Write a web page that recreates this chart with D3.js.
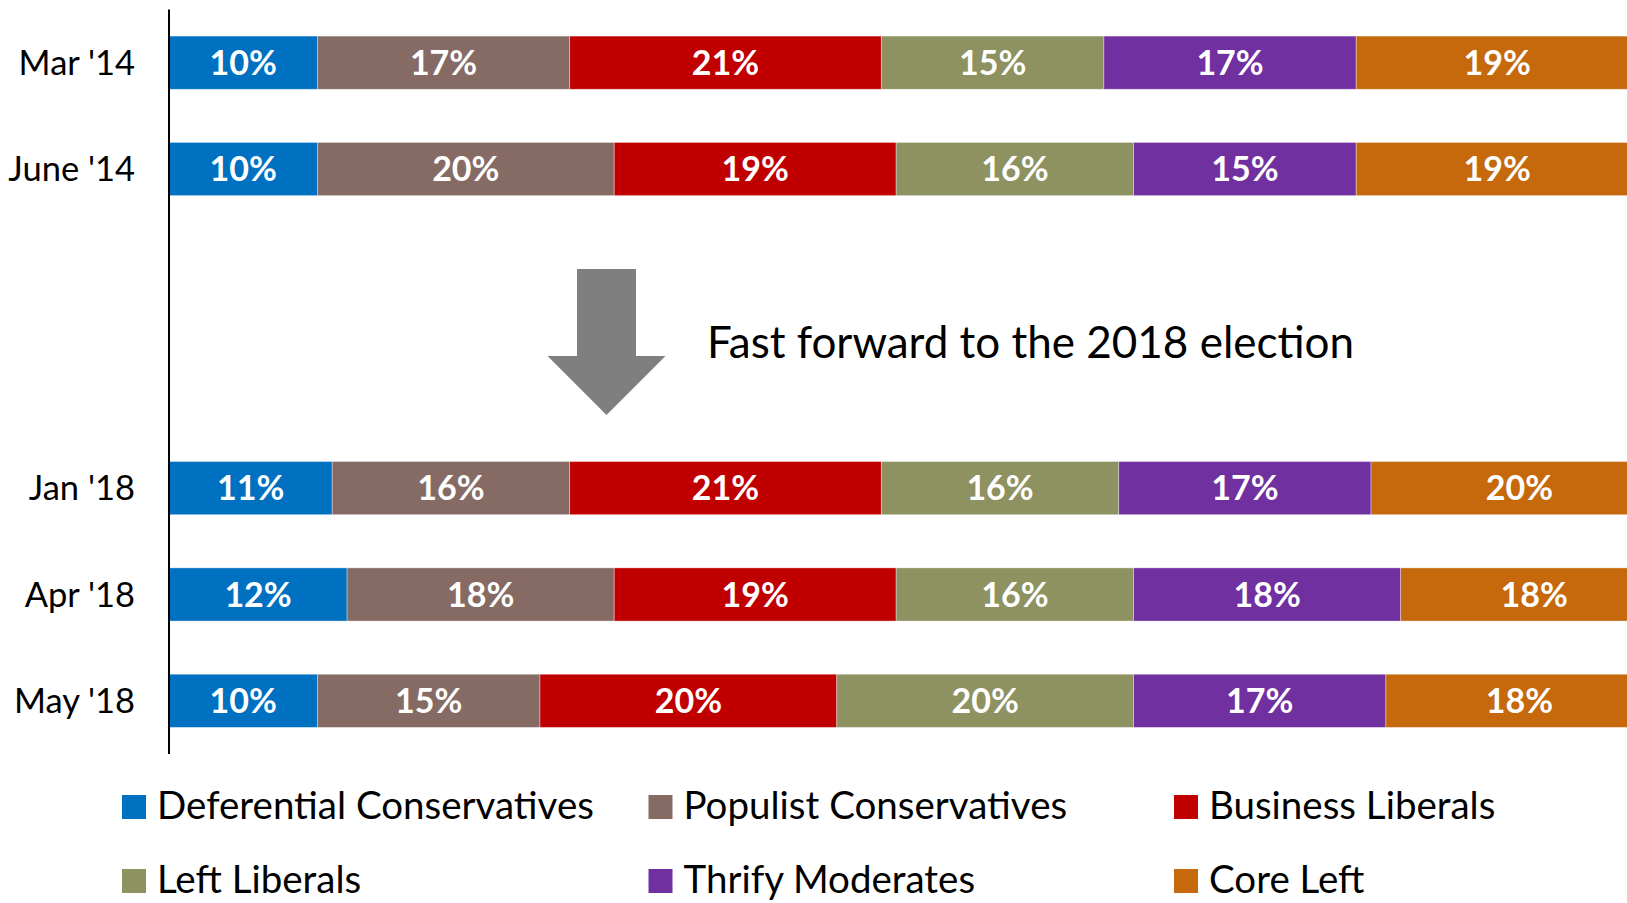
<!DOCTYPE html>
<html>
<head>
<meta charset="utf-8">
<script src="https://cdn.jsdelivr.net/npm/d3@7"></script>
<style>
  html, body { margin: 0; padding: 0; background: #fff; overflow: hidden; }
  svg { display: block; }
  text { font-family: Lato, "Open Sans", sans-serif; }
</style>
</head>
<body>
<svg id="chart" width="1627" height="903"></svg>
<script>
// Survey waves (rows); the two blank slots leave room for the "fast forward" note
const waves = ["Mar '14", "June '14", "", " ", "Jan '18", "Apr '18", "May '18"];

// Segment names in stacking order, left to right
const segments = [
  "Deferential Conservatives",
  "Populist Conservatives",
  "Business Liberals",
  "Left Liberals",
  "Thrify Moderates",
  "Core Left"
];

// Share of voters per segment (%), one array per wave
const mar14  = [10, 17, 21, 15, 17, 19];
const jun14  = [10, 20, 19, 16, 15, 19];
const jan18  = [11, 16, 21, 16, 17, 20];
const apr18  = [12, 18, 19, 16, 18, 18];
const may18  = [10, 15, 20, 20, 17, 18];

const segColors = ["#0070C0", "#866B64", "#C00000", "#8E9160", "#7030A0", "#C5690C"];

const note = "Fast forward to the 2018 election";

const rows = [
  { wave: "Mar '14", values: mar14 },
  { wave: "June '14", values: jun14 },
  { wave: "Jan '18", values: jan18 },
  { wave: "Apr '18", values: apr18 },
  { wave: "May '18", values: may18 }
];

const svg = d3.select("#chart");

// Layout
const axisX = 169;
const plotTop = 9.5, plotBottom = 754;

const x = d3.scaleLinear().domain([0, 100]).range([axisX, axisX + 1484]);
const y = d3.scaleBand().domain(waves).range([plotTop, plotBottom])
  .paddingInner(0.5).paddingOuter(0.25);
const color = d3.scaleOrdinal().domain(segments).range(segColors);

// Stack the values of each wave
const table = rows.map(r => {
  const o = { wave: r.wave };
  segments.forEach((s, i) => o[s] = r.values[i]);
  return o;
});
const stacked = d3.stack().keys(segments)(table);

const bars = svg.append("g");
const layer = bars.selectAll("g.layer").data(stacked).join("g")
  .attr("class", "layer")
  .attr("fill", d => color(d.key));

layer.selectAll("rect").data(d => d).join("rect")
  .attr("x", d => x(d[0]))
  .attr("y", d => y(d.data.wave))
  .attr("width", d => x(d[1]) - x(d[0]))
  .attr("height", y.bandwidth())
  .attr("stroke", "rgba(255,255,255,0.45)")
  .attr("stroke-width", 0.8);

// Value labels inside each segment
layer.selectAll("text").data(d => d.map(v => Object.assign({ key: d.key }, v))).join("text")
  .attr("x", d => (x(d[0]) + x(d[1])) / 2)
  .attr("y", d => y(d.data.wave) + y.bandwidth() / 2)
  .attr("dy", "0.36em")
  .attr("text-anchor", "middle")
  .attr("fill", "#fff")
  .attr("font-weight", 700)
  .attr("font-size", 34)
  .text(d => (d[1] - d[0]) + "%");

// Category axis
const yAxis = d3.axisLeft(y).tickSize(0).tickPadding(34)
  .tickFormat(d => d.trim());
const ax = svg.append("g").attr("transform", `translate(${axisX},0)`).call(yAxis);
ax.select(".domain").attr("stroke", "#000").attr("stroke-width", 2)
  .attr("d", `M0,${plotTop}V${plotBottom}`);
ax.selectAll(".tick text")
  .attr("font-size", 34.5)
  .attr("fill", "#000")
  .attr("dy", "0.35em");

// Arrow between the 2014 and 2018 waves
const arrowCx = 606.5;
const arrow = d3.path();
arrow.moveTo(arrowCx - 29.5, 269);
arrow.lineTo(arrowCx + 29.5, 269);
arrow.lineTo(arrowCx + 29.5, 356);
arrow.lineTo(arrowCx + 59, 356);
arrow.lineTo(arrowCx, 415);
arrow.lineTo(arrowCx - 59, 356);
arrow.lineTo(arrowCx - 29.5, 356);
arrow.closePath();
svg.append("path").attr("d", arrow.toString()).attr("fill", "#7F7F7F");

svg.append("text")
  .attr("x", 707)
  .attr("y", 358)
  .attr("font-size", 44)
  .attr("fill", "#000")
  .text(note);

// Legend, three columns by two rows
const legendX = [122, 648.5, 1174];
const legendY = [795, 869];
const legend = svg.append("g").selectAll("g").data(segments).join("g")
  .attr("transform", (d, i) => `translate(${legendX[i % 3]},${legendY[Math.floor(i / 3)]})`);
legend.append("rect")
  .attr("width", 24).attr("height", 24)
  .attr("fill", d => color(d));
legend.append("text")
  .attr("x", 35)
  .attr("y", 24)
  .attr("font-size", 38.5)
  .attr("fill", "#000")
  .text(d => d);
</script>
</body>
</html>
